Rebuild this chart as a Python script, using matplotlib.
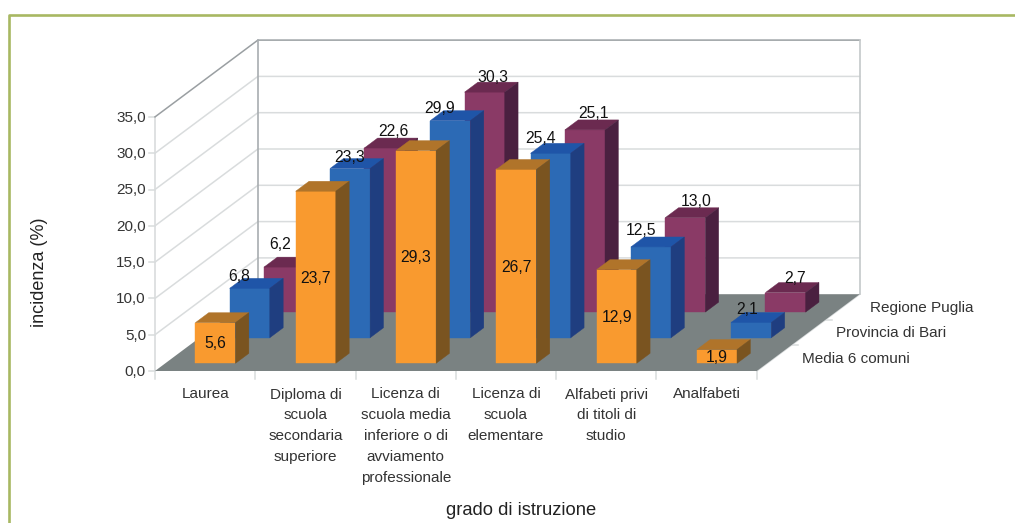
import matplotlib
matplotlib.use('Agg')
import matplotlib.pyplot as plt
from matplotlib.patches import Polygon

plt.rcParams['font.family'] = ['Liberation Sans', 'DejaVu Sans']

categories = ['Laurea', 'Diploma di\nscuola\nsecondaria\nsuperiore',
              'Licenza di\nscuola media\ninferiore o di\navviamento\nprofessionale',
              'Licenza di\nscuola\nelementare', 'Alfabeti privi\ndi titoli di\nstudio', 'Analfabeti']
series_names = ['Media 6 comuni', 'Provincia di Bari', 'Regione Puglia']
media_comuni = [5.6, 23.7, 29.3, 26.7, 12.9, 1.9]
provincia_bari = [6.8, 23.3, 29.9, 25.4, 12.5, 2.1]
regione_puglia = [6.2, 22.6, 30.3, 25.1, 13.0, 2.7]
y_ticks = [0, 5, 10, 15, 20, 25, 30, 35]

# front, top, side
colors = [('#F99A2F', '#B0742A', '#7A5420'),
          ('#2C6AB5', '#1F55A8', '#1F3E80'),
          ('#8A3A66', '#6B2A50', '#4A2040')]

# label shift in pixels from the top back edge of each bar
label_nudge = [None,
               [(-11, -3), (0, -2), (-11, -3), (-10, -6), (-10, -7), (-4, -4)],
               [(-4, -14), (9, -8), (8, -6), (9, -7), (11, -7), (10, -5)]]

# oblique projection, all in figure pixels
X0, Y0 = 155, 371
SLOT_W = 100.3
PX_PER_UNIT = 7.26
DEPTH_X, DEPTH_Y = 34.3, -25.6
BAR_W = 0.4
BAR_D0, BAR_D1 = 0.3, 0.69
TEXT_SIZE = 11
TEXT_COLOR = '#333333'
GRID = '#D9DCDD'


def proj(c, s, v):
    return (X0 + c * SLOT_W + s * DEPTH_X, Y0 + s * DEPTH_Y - v * PX_PER_UNIT)


fig = plt.figure(figsize=(10.15, 5.23), dpi=100)
ax = fig.add_axes([0, 0, 1, 1])
ax.set_xlim(0, 1015)
ax.set_ylim(523, 0)
ax.axis('off')

# outer frame
ax.plot([9.5, 9.5, 1015], [523, 14.5, 14.5], color='#A8B862', lw=1.9, zorder=1)

n_cat = len(categories)
n_ser = len(series_names)
top_v = y_ticks[-1]

# floor
floor = [proj(0, 0, 0), proj(n_cat, 0, 0), proj(n_cat, n_ser, 0), proj(0, n_ser, 0)]
ax.add_patch(Polygon(floor, facecolor='#7A8282', edgecolor='none', zorder=2))

# walls and grid
for v in y_ticks[1:-1]:
    pts = [proj(0, 0, v), proj(0, n_ser, v), proj(n_cat, n_ser, v)]
    ax.plot(*zip(*pts), color=GRID, lw=1.1, zorder=1.5)
pts = [proj(0, 0, top_v), proj(0, n_ser, top_v), proj(n_cat, n_ser, top_v)]
ax.plot(*zip(*pts), color='#9A9FA2', lw=1.1, zorder=1.6)
ax.plot(*zip(proj(0, 0, 0), proj(0, 0, top_v)), color=GRID, lw=1.2, zorder=1.5)
ax.plot(*zip(proj(0, n_ser, 0), proj(0, n_ser, top_v)), color='#A8ADB0', lw=1.2, zorder=1.6)
ax.plot(*zip(proj(n_cat, n_ser, 0), proj(n_cat, n_ser, top_v)), color='#C4C8CA', lw=1.2, zorder=1.6)
ax.plot(*zip(proj(n_cat, n_ser, 0), proj(n_cat, 0, 0)), color=GRID, lw=1.1, zorder=1.5)

# ticks and their labels
for v in y_ticks:
    x, y = proj(0, 0, v)
    ax.plot([x - 6, x], [y, y], color=GRID, lw=1.1, zorder=1.5)
    ax.text(x - 9, y + 1, f'{v:.1f}'.replace('.', ','), ha='right', va='center',
            fontsize=TEXT_SIZE, color=TEXT_COLOR)
for c in range(n_cat + 1):
    x, y = proj(c, 0, 0)
    ax.plot([x, x], [y, y + 8], color=GRID, lw=1.1, zorder=1.5)
for c, name in enumerate(categories):
    x, y = proj(c + 0.5, 0, 0)
    ax.text(x, y + 16.5, name, ha='center', va='top', fontsize=TEXT_SIZE, color=TEXT_COLOR, linespacing=1.62)
for s, name in enumerate(series_names):
    x, y = proj(n_cat, s + 1, 0)
    if s < n_ser - 1:
        ax.plot([x, x + 7], [y, y], color=GRID, lw=1.1, zorder=1.5)
for s, name in enumerate(series_names):
    x, y = proj(n_cat, s, 0)
    ax.text(x + 45, y - 12, name, ha='left', va='center', fontsize=TEXT_SIZE, color=TEXT_COLOR)

# bars, back row first
all_values = [media_comuni, provincia_bari, regione_puglia]
for s in range(n_ser - 1, -1, -1):
    front, top, side = colors[s]
    for c, v in enumerate(all_values[s]):
        c0 = c + 0.5 - BAR_W / 2
        c1 = c + 0.5 + BAR_W / 2
        d0 = s + BAR_D0
        d1 = s + BAR_D1
        z = 3 + (n_ser - s)
        ax.add_patch(Polygon([proj(c0, d0, 0), proj(c1, d0, 0), proj(c1, d0, v), proj(c0, d0, v)],
                             facecolor=front, edgecolor=front, lw=0.3, zorder=z))
        ax.add_patch(Polygon([proj(c0, d0, v), proj(c1, d0, v), proj(c1, d1, v), proj(c0, d1, v)],
                             facecolor=top, edgecolor=top, lw=0.3, zorder=z))
        ax.add_patch(Polygon([proj(c1, d0, 0), proj(c1, d1, 0), proj(c1, d1, v), proj(c1, d0, v)],
                             facecolor=side, edgecolor=side, lw=0.3, zorder=z))
        label = f'{v:.1f}'.replace('.', ',')
        if s == 0:
            x, y = proj(c + 0.5, d0, v / 2)
        else:
            dx, dy = label_nudge[s][c]
            x, y = proj(c + 0.5, d0, v)
            y = proj(c + 0.5, d1, v)[1] + dy
            x = x + dx
        ax.text(x, y + 1, label, ha='center', va='center', fontsize=11.3, color='#111111', zorder=10)

ax.text(40, 272, 'incidenza (%)', rotation=90, ha='center', va='center', fontsize=13, color='#222222')
ax.text(521, 510.5, 'grado di istruzione', ha='center', va='center', fontsize=13.2, color='#222222')

fig.savefig('out.png', dpi=100)
